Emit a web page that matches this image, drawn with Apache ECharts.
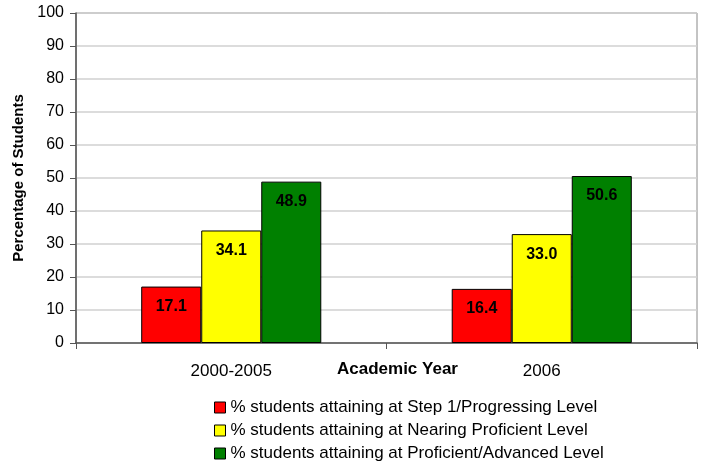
<!DOCTYPE html>
<html>
<head>
<meta charset="utf-8">
<script src="https://cdn.jsdelivr.net/npm/echarts@6/dist/echarts.min.js"></script>
<style>
html, body { margin: 0; padding: 0; background: #fff; }
#main { width: 701px; height: 463px; }
</style>
</head>
<body>
<div id="main"></div>
<script>
// 数据
var years = ['2000-2005', '2006']
var seriesNames = [
  '% students attaining at Step 1/Progressing Level',
  '% students attaining at Nearing Proficient Level',
  '% students attaining at Proficient/Advanced Level'
]
var progressing = [17.1, 16.4]
var nearing = [34.1, 33.0]
var proficient = [48.9, 50.6]
var colors = ['#ff0000', '#ffff00', '#008000']

var font = 'Liberation Sans, Arial, sans-serif'

function makeSeries(name, data, i) {
  return {
    name: name,
    type: 'bar',
    data: data,
    barGap: '0%',
    barCategoryGap: '42%',
    itemStyle: { color: colors[i], borderColor: '#000', borderWidth: 1 },
    label: {
      show: true,
      position: 'insideTop',
      distance: 12,
      formatter: function (p) { return p.value.toFixed(1) },
      color: '#000',
      fontWeight: 'bold',
      fontSize: 16,
      fontFamily: font
    }
  }
}

var myChart = echarts.init(document.getElementById('main'))
var option = {
  animation: false,
  textStyle: { fontFamily: font },
  grid: { left: 76, right: 4, top: 13, bottom: 120, show: true, borderColor: '#888', borderWidth: 1 },
  legend: {
    orient: 'vertical',
    left: 209,
    top: 394,
    height: 80,
    icon: 'rect',
    itemWidth: 11,
    itemHeight: 11,
    itemGap: 6,
    itemStyle: { borderColor: '#000', borderWidth: 1 },
    textStyle: { fontSize: 17, color: '#000', fontFamily: font },
    data: seriesNames
  },
  xAxis: {
    type: 'category',
    data: years,
    axisLine: { lineStyle: { color: '#555', width: 1.5 } },
    axisTick: { show: true, length: 6, lineStyle: { color: '#555' } },
    axisLabel: { color: '#000', fontSize: 17, margin: 20, fontFamily: font }
  },
  yAxis: {
    type: 'value',
    min: 0,
    max: 100,
    interval: 10,
    name: 'Percentage of Students',
    nameLocation: 'middle',
    nameGap: 50,
    nameTextStyle: { fontWeight: 'bold', fontSize: 15, color: '#000', fontFamily: font },
    axisLine: { show: true, lineStyle: { color: '#555', width: 1.5 } },
    axisTick: { show: true, length: 6, lineStyle: { color: '#555' } },
    axisLabel: { color: '#000', fontSize: 16, margin: 12, fontFamily: font },
    splitLine: { lineStyle: { color: '#d0d0d0', width: 1.5 } }
  },
  graphic: [{
    type: 'text',
    left: 337,
    top: 361,
    style: { text: 'Academic Year', fontWeight: 'bold', fontSize: 17, fill: '#000', fontFamily: font }
  }],
  series: [
    makeSeries(seriesNames[0], progressing, 0),
    makeSeries(seriesNames[1], nearing, 1),
    makeSeries(seriesNames[2], proficient, 2)
  ]
}
myChart.setOption(option)
</script>
</body>
</html>
